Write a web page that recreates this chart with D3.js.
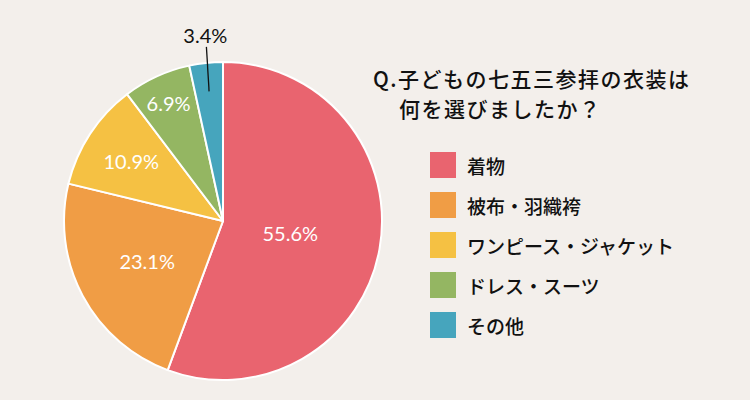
<!DOCTYPE html>
<html><head><meta charset="utf-8">
<script src="https://cdn.jsdelivr.net/npm/d3@7"></script>
<style>
html,body{margin:0;padding:0;background:#f3efeb;}
svg{display:block;}
</style></head>
<body>
<svg id="chart" width="750" height="400"></svg>
<script>
const categories = ["着物", "被布・羽織袴", "ワンピース・ジャケット", "ドレス・スーツ", "その他"];
const values = [55.6, 23.1, 10.9, 6.9, 3.4];
const labels = ["55.6%", "23.1%", "10.9%", "6.9%", "3.4%"];
const colors = ["#e9646f", "#f09d45", "#f5c143", "#94b662", "#46a5bd"];
const titleLines = ["Q.子どもの七五三参拝の衣装は", "何を選びましたか？"];

const svg = d3.select("#chart");
svg.append("rect").attr("width", 750).attr("height", 400).attr("fill", "#f3efeb");

const cx = 223, cy = 221, R = 159;
const pie = d3.pie().sort(null).value(d => d)(values);
const arc = d3.arc().innerRadius(0).outerRadius(R);
const g = svg.append("g").attr("transform", `translate(${cx},${cy})`);

g.selectAll("path").data(pie).join("path")
  .attr("d", arc)
  .attr("fill", (d, i) => colors[i])
  .attr("stroke", "#ffffff")
  .attr("stroke-width", 2)
  .attr("stroke-linejoin", "round");

// label radius factors (layout)
const labelR = [0.43, 0.54, 0.69, 0.82];
const pctFont = "Lato, 'Noto Sans', sans-serif";
pie.forEach((d, i) => {
  const a = (d.startAngle + d.endAngle) / 2;
  if (i < 4) {
    const r = R * labelR[i];
    g.append("text")
      .attr("x", Math.sin(a) * r)
      .attr("y", -Math.cos(a) * r)
      .attr("text-anchor", "middle")
      .attr("dominant-baseline", "central")
      .attr("font-family", pctFont)
      .attr("font-size", 20)
      .attr("fill", "#ffffff")
      .text(labels[i]);
  } else {
    const a2 = a + 0.012;
    const r1 = R * 0.82, r2 = R * 1.1;
    g.append("line")
      .attr("x1", Math.sin(a) * r1).attr("y1", -Math.cos(a) * r1)
      .attr("x2", Math.sin(a2) * r2).attr("y2", -Math.cos(a2) * r2)
      .attr("stroke", "#111").attr("stroke-width", 1.3);
    const r3 = R * 1.175;
    g.append("text")
      .attr("x", Math.sin(a2) * r3)
      .attr("y", -Math.cos(a2) * r3)
      .attr("text-anchor", "middle")
      .attr("dominant-baseline", "central")
      .attr("font-family", pctFont)
      .attr("font-size", 20)
      .attr("fill", "#111")
      .text(labels[i]);
  }
});

const jp = "'Noto Sans CJK JP', 'Noto Sans', sans-serif";
svg.append("text").attr("x", 373).attr("y", 87)
  .attr("font-family", jp).attr("font-size", 21).attr("font-weight", 500)
  .attr("fill", "#111").attr("letter-spacing", 1.5).text(titleLines[0]);
svg.append("text").attr("x", 399).attr("y", 117)
  .attr("font-family", jp).attr("font-size", 21).attr("font-weight", 500)
  .attr("fill", "#111").attr("letter-spacing", 1.5).text(titleLines[1]);

const legend = svg.append("g");
const ly = d3.scaleBand().domain(categories).range([145, 345]).paddingInner(0);
categories.forEach((c, i) => {
  const y = ly(c) + ly.bandwidth() / 2;
  legend.append("rect").attr("x", 430).attr("y", y - 13).attr("width", 26).attr("height", 26)
    .attr("fill", colors[i]);
  legend.append("text").attr("x", 467).attr("y", y)
    .attr("dominant-baseline", "central")
    .attr("font-family", jp).attr("font-size", 19).attr("font-weight", 500)
    .attr("fill", "#111").text(c);
});
</script>
</body></html>
